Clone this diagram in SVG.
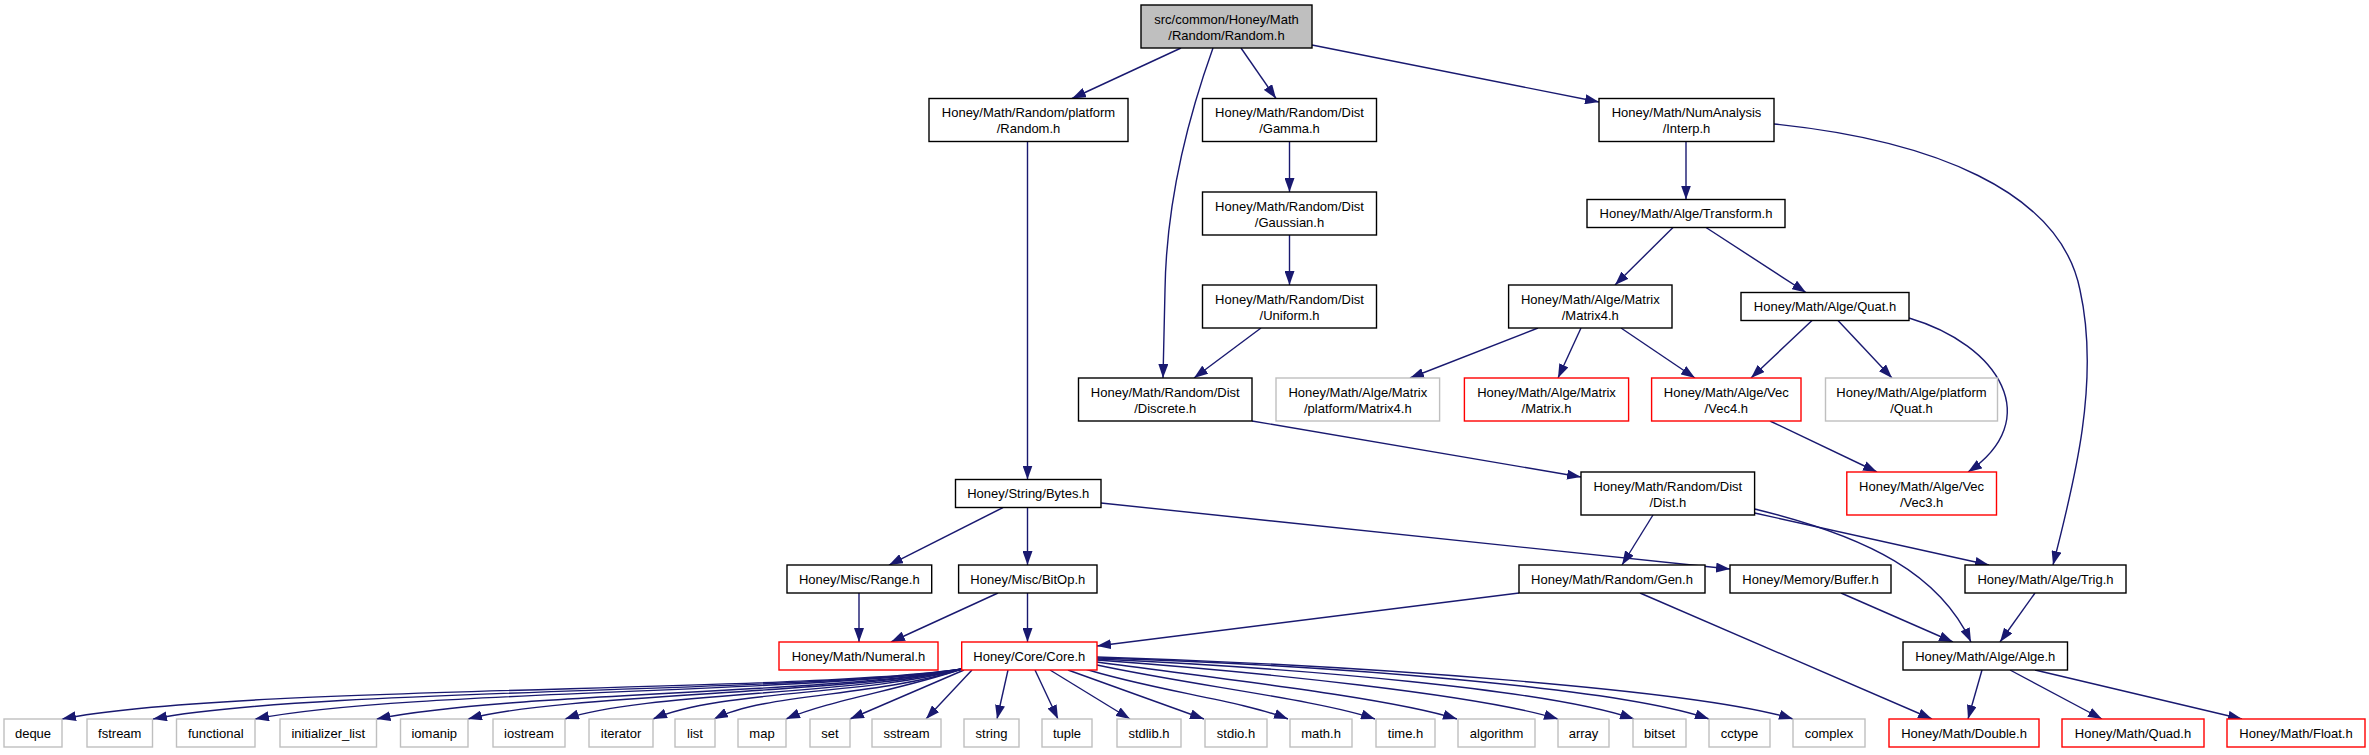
<svg xmlns="http://www.w3.org/2000/svg" width="2369" height="755" viewBox="0 0 2369 755">
<style>
rect{fill:#fff;stroke:#000;stroke-width:1.4}
.r rect{stroke:#ff0000}
.g rect{stroke:#bfbfbf}
.root rect{fill:#bfbfbf}
text{font-family:"Liberation Sans",Arial,Helvetica,sans-serif;font-size:13px;text-anchor:middle;fill:#000}
#edges path{fill:none;stroke:#191970;stroke-width:1.4;marker-end:url(#a)}
</style>
<defs>
<marker id="a" markerUnits="userSpaceOnUse" markerWidth="14" markerHeight="10" viewBox="0 0 14 10" refX="14" refY="5" orient="auto"><path d="M0,0L14,5L0,10z" fill="#191970"/></marker>
</defs>
<rect x="0" y="0" width="2369" height="755" style="fill:#fff;stroke:none"/>
<g id="edges">
<path d="M1181,48 L1072,98.5"/>
<path d="M1213,48 C1180,140 1166,220 1165,290 L1163,378"/>
<path d="M1241,48 L1276,98.5"/>
<path d="M1312,45 L1599,102"/>
<path d="M1027.5,141.5 L1027.5,479.5"/>
<path d="M1289.5,141.5 L1289.5,192"/>
<path d="M1289.5,235 L1289.5,285"/>
<path d="M1261,328 L1194,378"/>
<path d="M1686,141.5 L1686,199.5"/>
<path d="M1774,124 C1930,140 2060,190 2080,290 C2100,380 2075,480 2053,565"/>
<path d="M1673,227.5 L1615,285"/>
<path d="M1706,227.5 L1806,292.5"/>
<path d="M1538,328 L1410,378"/>
<path d="M1581,328 L1558,378"/>
<path d="M1621,328 L1695,378"/>
<path d="M1812,320.5 L1751,378"/>
<path d="M1838,320.5 L1892,378"/>
<path d="M1909,318 C2000,345 2045,420 1968,472"/>
<path d="M1770,421 L1877,472"/>
<path d="M1252,421 L1581,477"/>
<path d="M1003,507.5 L889,565"/>
<path d="M1027.5,507.5 L1027.5,565"/>
<path d="M1101,503 L1730,569"/>
<path d="M1653,515 L1622,565"/>
<path d="M1754.6,513 L1989,565"/>
<path d="M1754.6,509 C1870,537 1940,575 1971,642"/>
<path d="M1519,593 L1097,646"/>
<path d="M1640,593 L1932,719"/>
<path d="M1841,593 L1953,642"/>
<path d="M2035,593 L2000,642"/>
<path d="M859,593 L859,642"/>
<path d="M998,593 L891,642"/>
<path d="M1027.5,593 L1027.5,642"/>
<path d="M1982,670 L1968,719"/>
<path d="M2010,670 L2102,719"/>
<path d="M2035,670 L2242,719"/>
<path d="M962,669 C800,693 230,685 62,719"/>
<path d="M962,669 C810,693 310,688 153,719"/>
<path d="M962,669 C820,693 400,690 255,719"/>
<path d="M962,669 C830,694 510,692 376.5,719"/>
<path d="M962,669 C840,694 560,694 468,719"/>
<path d="M962,669 C850,695 640,693 565,719"/>
<path d="M962,669 C860,696 720,690 653,719"/>
<path d="M962,669 C875,697 765,693 714,719"/>
<path d="M962,669 C900,690 830,700 786,719"/>
<path d="M964,670 L850,719"/>
<path d="M972,670 L926,719"/>
<path d="M1008,670 L997,719"/>
<path d="M1035,670 L1058,719"/>
<path d="M1050,670 L1130,719"/>
<path d="M1068,670 L1204,719"/>
<path d="M1082,668 C1150,690 1240,700 1288,719"/>
<path d="M1097,665 C1190,685 1320,700 1375,719"/>
<path d="M1097,662 C1230,680 1390,698 1457,719"/>
<path d="M1097,660 C1260,672 1480,695 1558,719"/>
<path d="M1097,659 C1300,668 1550,690 1634,719"/>
<path d="M1097,658 C1330,665 1620,688 1709,719"/>
<path d="M1097,657 C1360,665 1700,690 1793,719"/>
</g>
<g id="root" class="root"><rect x="1141" y="5" width="171" height="43"/><text x="1226.5" y="23.5">src/common/Honey/Math</text><text x="1226.5" y="39.5">/Random/Random.h</text></g>
<g id="pRandom"><rect x="929" y="98.5" width="199" height="43"/><text x="1028.5" y="117">Honey/Math/Random/platform</text><text x="1028.5" y="133">/Random.h</text></g>
<g id="Gamma"><rect x="1202.5" y="98.5" width="174" height="43"/><text x="1289.5" y="117">Honey/Math/Random/Dist</text><text x="1289.5" y="133">/Gamma.h</text></g>
<g id="Interp"><rect x="1599" y="98.5" width="175" height="43"/><text x="1686.5" y="117">Honey/Math/NumAnalysis</text><text x="1686.5" y="133">/Interp.h</text></g>
<g id="Gaussian"><rect x="1202.5" y="192" width="174" height="43"/><text x="1289.5" y="210.5">Honey/Math/Random/Dist</text><text x="1289.5" y="226.5">/Gaussian.h</text></g>
<g id="Transform"><rect x="1587" y="199.5" width="198" height="28"/><text x="1686" y="218">Honey/Math/Alge/Transform.h</text></g>
<g id="Uniform"><rect x="1202.5" y="285" width="174" height="43"/><text x="1289.5" y="303.5">Honey/Math/Random/Dist</text><text x="1289.5" y="319.5">/Uniform.h</text></g>
<g id="Matrix4"><rect x="1508.6" y="285" width="163.4" height="43"/><text x="1590.3" y="303.5">Honey/Math/Alge/Matrix</text><text x="1590.3" y="319.5">/Matrix4.h</text></g>
<g id="Quat"><rect x="1741" y="292.5" width="168" height="28"/><text x="1825" y="311">Honey/Math/Alge/Quat.h</text></g>
<g id="Discrete"><rect x="1078.5" y="378" width="173.5" height="43"/><text x="1165.25" y="396.5">Honey/Math/Random/Dist</text><text x="1165.25" y="412.5">/Discrete.h</text></g>
<g id="pMatrix4" class="g"><rect x="1276" y="378" width="163.6" height="43"/><text x="1357.8" y="396.5">Honey/Math/Alge/Matrix</text><text x="1357.8" y="412.5">/platform/Matrix4.h</text></g>
<g id="Matrix" class="r"><rect x="1464.4" y="378" width="164.2" height="43"/><text x="1546.5" y="396.5">Honey/Math/Alge/Matrix</text><text x="1546.5" y="412.5">/Matrix.h</text></g>
<g id="Vec4" class="r"><rect x="1651.6" y="378" width="149.4" height="43"/><text x="1726.3" y="396.5">Honey/Math/Alge/Vec</text><text x="1726.3" y="412.5">/Vec4.h</text></g>
<g id="pQuat" class="g"><rect x="1825.5" y="378" width="172" height="43"/><text x="1911.5" y="396.5">Honey/Math/Alge/platform</text><text x="1911.5" y="412.5">/Quat.h</text></g>
<g id="Bytes"><rect x="955.5" y="479.5" width="145.5" height="28"/><text x="1028.25" y="498">Honey/String/Bytes.h</text></g>
<g id="Dist"><rect x="1581" y="472" width="173.6" height="43"/><text x="1667.8" y="490.5">Honey/Math/Random/Dist</text><text x="1667.8" y="506.5">/Dist.h</text></g>
<g id="Vec3" class="r"><rect x="1846.8" y="472" width="149.7" height="43"/><text x="1921.6" y="490.5">Honey/Math/Alge/Vec</text><text x="1921.6" y="506.5">/Vec3.h</text></g>
<g id="Range"><rect x="787" y="565" width="144.7" height="28"/><text x="859.3" y="583.5">Honey/Misc/Range.h</text></g>
<g id="BitOp"><rect x="958.6" y="565" width="138.4" height="28"/><text x="1027.8" y="583.5">Honey/Misc/BitOp.h</text></g>
<g id="Gen"><rect x="1519" y="565" width="186" height="28"/><text x="1612" y="583.5">Honey/Math/Random/Gen.h</text></g>
<g id="Buffer"><rect x="1730" y="565" width="161" height="28"/><text x="1810.5" y="583.5">Honey/Memory/Buffer.h</text></g>
<g id="Trig"><rect x="1965" y="565" width="161" height="28"/><text x="2045.5" y="583.5">Honey/Math/Alge/Trig.h</text></g>
<g id="Numeral" class="r"><rect x="779" y="642" width="159" height="28"/><text x="858.5" y="660.5">Honey/Math/Numeral.h</text></g>
<g id="Core" class="r"><rect x="961.7" y="642" width="135.3" height="28"/><text x="1029.3" y="660.5">Honey/Core/Core.h</text></g>
<g id="Alge"><rect x="1903" y="642" width="164.5" height="28"/><text x="1985.25" y="660.5">Honey/Math/Alge/Alge.h</text></g>
<g id="deque" class="g"><rect x="4" y="719" width="58" height="28"/><text x="33" y="737.5">deque</text></g>
<g id="fstream" class="g"><rect x="87" y="719" width="65.5" height="28"/><text x="119.75" y="737.5">fstream</text></g>
<g id="functional" class="g"><rect x="176.5" y="719" width="78.5" height="28"/><text x="215.75" y="737.5">functional</text></g>
<g id="initializer_list" class="g"><rect x="280" y="719" width="96.5" height="28"/><text x="328.25" y="737.5">initializer_list</text></g>
<g id="iomanip" class="g"><rect x="400.5" y="719" width="67.5" height="28"/><text x="434.25" y="737.5">iomanip</text></g>
<g id="iostream" class="g"><rect x="493" y="719" width="72" height="28"/><text x="529" y="737.5">iostream</text></g>
<g id="iterator" class="g"><rect x="589" y="719" width="64" height="28"/><text x="621" y="737.5">iterator</text></g>
<g id="list" class="g"><rect x="675" y="719" width="40" height="28"/><text x="695" y="737.5">list</text></g>
<g id="map" class="g"><rect x="738" y="719" width="48" height="28"/><text x="762" y="737.5">map</text></g>
<g id="set" class="g"><rect x="810" y="719" width="40" height="28"/><text x="830" y="737.5">set</text></g>
<g id="sstream" class="g"><rect x="872" y="719" width="69" height="28"/><text x="906.5" y="737.5">sstream</text></g>
<g id="string" class="g"><rect x="964" y="719" width="55" height="28"/><text x="991.5" y="737.5">string</text></g>
<g id="tuple" class="g"><rect x="1042" y="719" width="50" height="28"/><text x="1067" y="737.5">tuple</text></g>
<g id="stdlib" class="g"><rect x="1117" y="719" width="64" height="28"/><text x="1149" y="737.5">stdlib.h</text></g>
<g id="stdio" class="g"><rect x="1205" y="719" width="62" height="28"/><text x="1236" y="737.5">stdio.h</text></g>
<g id="math" class="g"><rect x="1290" y="719" width="62" height="28"/><text x="1321" y="737.5">math.h</text></g>
<g id="time" class="g"><rect x="1376" y="719" width="59" height="28"/><text x="1405.5" y="737.5">time.h</text></g>
<g id="algorithm" class="g"><rect x="1458" y="719" width="77" height="28"/><text x="1496.5" y="737.5">algorithm</text></g>
<g id="array" class="g"><rect x="1558" y="719" width="51" height="28"/><text x="1583.5" y="737.5">array</text></g>
<g id="bitset" class="g"><rect x="1633" y="719" width="53" height="28"/><text x="1659.5" y="737.5">bitset</text></g>
<g id="cctype" class="g"><rect x="1709" y="719" width="61" height="28"/><text x="1739.5" y="737.5">cctype</text></g>
<g id="complex" class="g"><rect x="1793" y="719" width="72" height="28"/><text x="1829" y="737.5">complex</text></g>
<g id="Double" class="r"><rect x="1889" y="719" width="150" height="28"/><text x="1964" y="737.5">Honey/Math/Double.h</text></g>
<g id="Quad" class="r"><rect x="2062" y="719" width="142" height="28"/><text x="2133" y="737.5">Honey/Math/Quad.h</text></g>
<g id="Float" class="r"><rect x="2227" y="719" width="138" height="28"/><text x="2296" y="737.5">Honey/Math/Float.h</text></g>
</svg>
